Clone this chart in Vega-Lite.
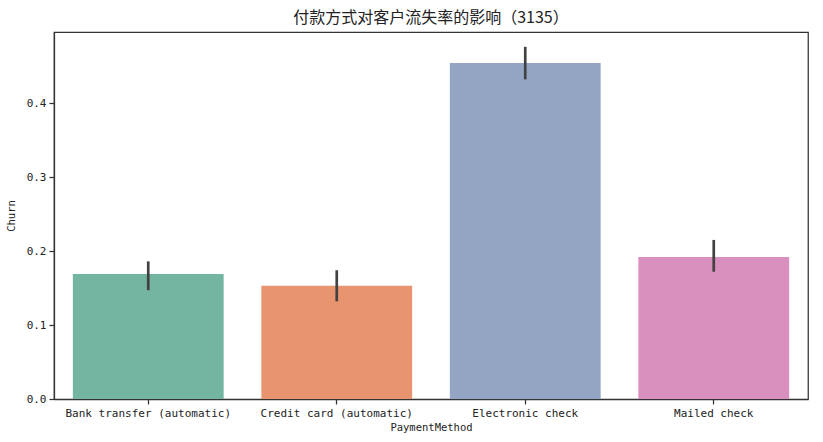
{
  "$schema": "https://vega.github.io/schema/vega-lite/v6.json",
  "autosize": "none",
  "width": 754,
  "height": 367,
  "padding": {"left": 54, "top": 32, "right": 15, "bottom": 43},
  "background": "white",
  "title": {
    "text": "付款方式对客户流失率的影响（3135）",
    "font": "Noto Sans CJK SC",
    "fontSize": 16,
    "fontWeight": "normal",
    "color": "#222",
    "anchor": "middle",
    "offset": 6
  },
  "config": {
    "view": {"stroke": "#333", "strokeWidth": 1.25},
    "axis": {
      "domainColor": "#333",
      "domainWidth": 1.25,
      "tickColor": "#333",
      "tickWidth": 1.25,
      "tickSize": 5,
      "labelFont": "DejaVu Sans Mono",
      "labelFontSize": 11,
      "labelColor": "#222",
      "labelPadding": 3,
      "titleFont": "DejaVu Sans Mono",
      "titleFontSize": 10.5,
      "titleFontWeight": "normal",
      "titleColor": "#222",
      "grid": false
    }
  },
  "data": {
    "values": [
      {"PaymentMethod": "Bank transfer (automatic)", "Churn": 0.169, "lo": 0.147, "hi": 0.186},
      {"PaymentMethod": "Credit card (automatic)", "Churn": 0.153, "lo": 0.132, "hi": 0.174},
      {"PaymentMethod": "Electronic check", "Churn": 0.454, "lo": 0.432, "hi": 0.476},
      {"PaymentMethod": "Mailed check", "Churn": 0.192, "lo": 0.172, "hi": 0.215}
    ]
  },
  "encoding": {
    "x": {
      "field": "PaymentMethod",
      "type": "nominal",
      "sort": null,
      "scale": {"paddingInner": 0.2, "paddingOuter": 0.1},
      "axis": {"labelAngle": 0, "title": "PaymentMethod", "titlePadding": 4}
    }
  },
  "layer": [
    {
      "mark": {"type": "bar"},
      "encoding": {
        "y": {
          "field": "Churn",
          "type": "quantitative",
          "scale": {"domain": [0, 0.496], "nice": false},
          "axis": {"values": [0, 0.1, 0.2, 0.3, 0.4], "format": ".1f", "title": "Churn", "titlePadding": 10}
        },
        "color": {
          "field": "PaymentMethod",
          "type": "nominal",
          "sort": null,
          "scale": {"range": ["#73b5a0", "#e8956f", "#94a4c3", "#da90bf"]},
          "legend": null
        }
      }
    },
    {
      "mark": {"type": "rule", "color": "#424242", "strokeWidth": 2.7},
      "encoding": {
        "y": {"field": "lo", "type": "quantitative"},
        "y2": {"field": "hi"}
      }
    }
  ]
}
